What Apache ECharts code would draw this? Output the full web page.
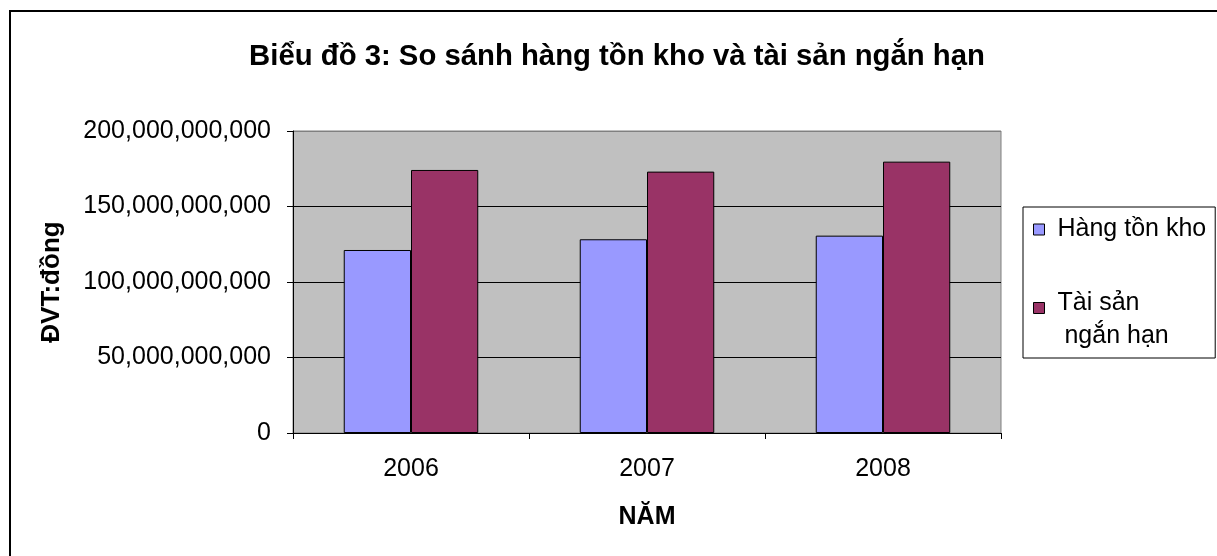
<!DOCTYPE html>
<html>
<head>
<meta charset="utf-8">
<script src="https://cdn.jsdelivr.net/npm/echarts@6/dist/echarts.min.js"></script>
<style>
html,body{margin:0;padding:0;background:#fff;}
#c{width:1217px;height:556px;}
</style>
</head>
<body>
<div id="c"></div>
<script>
const categories = ['2006', '2007', '2008'];
const hangTonKho = [121.2e9, 128.3e9, 130.7e9];
const taiSanNganHan = [174.2e9, 173.1e9, 179.7e9];
const seriesNames = ['Hàng tồn kho', 'Tài sản ngắn hạn'];

const FONT = '"Liberation Sans", Arial, sans-serif';
const chart = echarts.init(document.getElementById('c'), null, {renderer: 'canvas'});

function fmt(v) {
  return String(Math.round(v)).replace(/\B(?=(\d{3})+(?!\d))/g, ',');
}

const legendText = {
  fontFamily: FONT, fontSize: 25, color: '#000', lineHeight: 33,
  padding: [0, 0, 0, 8],
  rich: {
    s: {fontFamily: FONT, fontSize: 4, lineHeight: 24, color: '#000'},
    a: {fontFamily: FONT, fontSize: 25, lineHeight: 33, color: '#000'}
  }
};

chart.setOption({
  animation: false,
  backgroundColor: '#fff',
  textStyle: {fontFamily: FONT},
  graphic: [{
    type: 'rect',
    shape: {x: 10, y: 11, width: 1400, height: 800},
    style: {fill: 'none', stroke: '#000', lineWidth: 2},
    silent: true,
    z: -1
  }],
  title: {
    text: 'Biểu đồ 3: So sánh hàng tồn kho và tài sản ngắn hạn',
    left: 612,
    top: 37,
    textAlign: 'center',
    textStyle: {fontFamily: FONT, fontWeight: 'bold', fontSize: 29.3, color: '#000'}
  },
  legend: {
    orient: 'vertical',
    left: 1023,
    top: 207,
    padding: [6, 9, 5, 10],
    itemGap: 17,
    itemWidth: 11,
    itemHeight: 11,
    icon: 'rect',
    borderColor: '#000',
    borderWidth: 1,
    backgroundColor: '#fff',
    itemStyle: {borderColor: '#000', borderWidth: 1},
    data: seriesNames,
    formatter: function (name) {
      return name === 'Tài sản ngắn hạn' ? '{s| }\n{a|Tài sản}\n{a| ngắn hạn}' : name;
    },
    textStyle: legendText
  },
  grid: {
    left: 293, right: 216, top: 131, bottom: 123,
    show: true,
    backgroundColor: '#C0C0C0',
    borderColor: '#808080',
    borderWidth: 1
  },
  xAxis: {
    type: 'category',
    data: categories,
    name: 'NĂM',
    nameLocation: 'middle',
    nameGap: 72,
    nameTextStyle: {fontFamily: FONT, fontWeight: 'bold', fontSize: 25, color: '#000'},
    axisLine: {lineStyle: {color: '#000', width: 1}},
    axisTick: {show: true, alignWithLabel: false, length: 6, lineStyle: {color: '#000'}},
    axisLabel: {fontFamily: FONT, fontSize: 25, color: '#000', margin: 24},
    splitLine: {show: false}
  },
  yAxis: {
    type: 'value',
    min: 0,
    max: 200e9,
    interval: 50e9,
    name: 'ĐVT:đồng',
    nameLocation: 'middle',
    nameGap: 228,
    nameRotate: 90,
    nameTextStyle: {fontFamily: FONT, fontWeight: 'bold', fontSize: 26, color: '#000'},
    axisLine: {show: true, lineStyle: {color: '#000', width: 1}},
    axisTick: {show: true, length: 6, lineStyle: {color: '#000'}},
    axisLabel: {fontFamily: FONT, fontSize: 25, color: '#000', margin: 22, formatter: fmt},
    splitLine: {show: true, lineStyle: {color: ['#000', '#000', '#000', '#000', '#808080'], width: 1}}
  },
  series: [
    {
      name: seriesNames[0],
      type: 'bar',
      data: hangTonKho,
      barGap: '0%',
      barCategoryGap: '43%',
      itemStyle: {color: '#9999FF', borderColor: '#000', borderWidth: 1}
    },
    {
      name: seriesNames[1],
      type: 'bar',
      data: taiSanNganHan,
      barGap: '0%',
      barCategoryGap: '43%',
      itemStyle: {color: '#993366', borderColor: '#000', borderWidth: 1}
    }
  ]
});
</script>
</body>
</html>
